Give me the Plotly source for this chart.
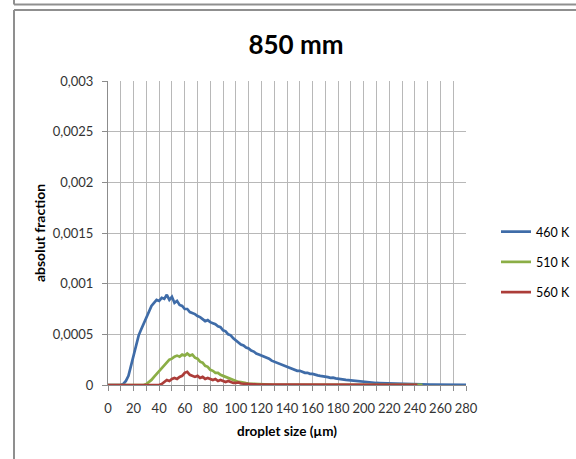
import plotly.graph_objects as go

# ---------------- data ----------------
series_names = ["460 K", "510 K", "560 K"]
series_colors = ["#3F6CA8", "#8BAE46", "#AC3D39"]

# droplet size grid step (µm)
step_um = 2

y_460 = [
    0, 0, 0, 0, 0, 0,
    0.00001, 0.00004, 0.00009, 0.00019, 0.00031, 0.00041, 0.00049, 0.00055, 0.00061, 0.00067,
    0.00073, 0.00078, 0.00081, 0.00084, 0.00083, 0.00086, 0.00085, 0.00089, 0.00084, 0.00087,
    0.00081, 0.00083, 0.00079, 0.00078, 0.00075, 0.00075, 0.00072, 0.00071, 0.00070, 0.00068,
    0.00067, 0.00065, 0.00063, 0.00064, 0.00062, 0.00061, 0.00060, 0.00058, 0.00057, 0.00054,
    0.00053, 0.00050, 0.00049, 0.00046, 0.00044, 0.00042, 0.00040, 0.00039, 0.00037, 0.00036,
    0.00034, 0.00033, 0.00031, 0.00030, 0.00029, 0.00028, 0.00027, 0.00026, 0.00024, 0.00023,
    0.00022, 0.00021, 0.00020, 0.00019, 0.00018, 0.00017, 0.00016, 0.00015, 0.00014, 0.00014,
    0.00013, 0.00012, 0.00012, 0.00011, 0.00011, 0.000100, 0.000095, 0.00009, 0.000088, 0.00008,
    0.000078, 0.00007, 0.000072, 0.000065, 0.00006, 0.000058, 0.000055, 0.00005, 0.000048, 0.000045,
    0.00004, 0.000038, 0.000035, 0.000032, 0.00003, 0.000028, 0.000026, 0.000024, 0.000022, 0.00002,
    0.000019, 0.000018, 0.000016, 0.000015, 0.000014, 0.000013, 0.000012, 0.000011, 0.00001, 0.000009,
    0.000008, 0.000008, 0.000007, 0.000006, 0.000006, 0.000005, 0.000005, 0.000004, 0.000004, 0.000004,
    0.000003, 0.000003, 0.000003, 0.000003, 0.000002, 0.000002, 0.000002, 0.000002, 0.000002, 0.000001,
    0.000001, 0.000001, 0.000001, 0.000001, 0.000001,
]

y_510 = [
    0, 0, 0, 0, 0, 0, 0, 0, 0, 0, 0, 0, 0, 0, 0,
    0.00001, 0.00003, 0.00005, 0.00008, 0.00011, 0.00014, 0.00017, 0.00020, 0.00022, 0.00025,
    0.00026, 0.00028, 0.00029, 0.00028, 0.00030, 0.00029, 0.00031, 0.00029, 0.00030, 0.00027,
    0.00026, 0.00023, 0.00022, 0.00019, 0.00018, 0.00015, 0.00014, 0.00012, 0.00012, 0.00010,
    0.00009, 0.00008, 0.00007, 0.00006, 0.00005, 0.00004, 0.00003, 0.000028, 0.00002, 0.000018,
    0.000014, 0.000012, 0.00001, 0.000009, 0.000008, 0.000007, 0.000006, 0.000005, 0.000005, 0.000004,
    0.000004,
    0.000003, 0.000003, 0.000003, 0.000003, 0.000003, 0.000003, 0.000003, 0.000003, 0.000003, 0.000003,
    0.000003, 0.000003, 0.000003, 0.000003, 0.000003,
    0.000002, 0.000002, 0.000002, 0.000002, 0.000002, 0.000002, 0.000002, 0.000002, 0.000002, 0.000002,
    0.000002, 0.000002, 0.000002, 0.000002, 0.000002, 0.000002, 0.000002, 0.000002, 0.000002, 0.000002,
    0.000001, 0.000001, 0.000001, 0.000001, 0.000001, 0.000001, 0.000001, 0.000001, 0.000001, 0.000001,
    0.000001, 0.000001, 0.000001, 0.000001, 0.000001, 0.000001, 0.000001, 0.000001, 0.000001, 0.000001,
    0.000001, 0.000001, 0.000001,
]

y_560 = [
    0, 0, 0, 0, 0, 0, 0, 0, 0, 0, 0, 0, 0, 0, 0, 0, 0, 0, 0, 0, 0,
    0.00001, 0.00003, 0.00005, 0.00004, 0.00006, 0.00007, 0.00006, 0.00008, 0.00009, 0.00012,
    0.00013, 0.00010, 0.00009, 0.00008, 0.00009, 0.00007, 0.00008, 0.00006, 0.00007, 0.00006,
    0.00005, 0.00006, 0.00004, 0.00005, 0.00004, 0.00003, 0.00004, 0.00003, 0.00002, 0.00002,
    0.000025, 0.000015, 0.000012, 0.00001, 0.000012, 0.000008, 0.000007, 0.000006, 0.000005, 0.000005,
    0.000004, 0.000004, 0.000004, 0.000004, 0.000004, 0.000004, 0.000004, 0.000004, 0.000004, 0.000004,
    0.000003, 0.000003, 0.000003, 0.000003, 0.000003, 0.000003, 0.000003, 0.000003, 0.000003, 0.000003,
    0.000003, 0.000003, 0.000003, 0.000003, 0.000003,
    0.000002, 0.000002, 0.000002, 0.000002, 0.000002, 0.000002, 0.000002, 0.000002, 0.000002, 0.000002,
    0.000002, 0.000002, 0.000002, 0.000002, 0.000002,
    0.000001, 0.000001, 0.000001, 0.000001, 0.000001, 0.000001, 0.000001, 0.000001, 0.000001, 0.000001,
    0.000001, 0.000001, 0.000001, 0.000001, 0.000001, 0.000001, 0.000001, 0.000001, 0.000001, 0.000001,
    0.000001,
]

x_tick_vals = [0, 10, 20, 30, 40, 50, 60, 70, 80, 90, 100, 110, 120, 130, 140,
               150, 160, 170, 180, 190, 200, 210, 220, 230, 240, 250, 260, 270, 280]
x_tick_text = ["0", "", "20", "", "40", "", "60", "", "80", "", "100", "", "120", "", "140",
               "", "160", "", "180", "", "200", "", "220", "", "240", "", "260", "", "280"]
y_tick_vals = [0, 0.0005, 0.001, 0.0015, 0.002, 0.0025, 0.003]
y_tick_text = ["0", "0,0005", "0,001", "0,0015", "0,002", "0,0025", "0,003"]

title_text = "850 mm"
x_title = "droplet size (µm)"
y_title = "absolut fraction"

# ---------------- figure ----------------
W, H = 576, 459
L, R, T, B = 108, 110, 81, 74
FONT = "Lato, 'Open Sans', sans-serif"

fig = go.Figure()
for name, color, ys in zip(series_names, series_colors, [y_460, y_510, y_560]):
    xs = [i * step_um for i in range(len(ys))]
    fig.add_trace(go.Scatter(
        x=xs, y=ys, mode="lines", name=name, legendgroup=name,
        line=dict(color=color, width=2.7),
    ))

grid_c = "#B8B8B8"
fig.update_xaxes(
    range=[0, 280], tickvals=x_tick_vals, ticktext=x_tick_text, ticks="outside", ticklen=5,
    tickcolor="#8C8C8C", showgrid=True, gridcolor=grid_c, gridwidth=1,
    showline=True, linecolor="#8C8C8C", linewidth=1, zeroline=False,
    tickfont=dict(family=FONT, size=13, color="#333333"),
    ticklabelstandoff=6,
    title=dict(text="<b>" + x_title + "</b>", font=dict(family=FONT, size=13.5, color="#000000"),
               standoff=11),
)
fig.update_yaxes(
    range=[0, 0.003], tickvals=y_tick_vals, ticktext=y_tick_text, ticks="outside",
    ticklen=5, tickcolor="#8C8C8C", showgrid=True, gridcolor=grid_c, gridwidth=1,
    showline=True, linecolor="#8C8C8C", linewidth=1, zeroline=False,
    tickfont=dict(family=FONT, size=13, color="#333333"),
    ticklabelstandoff=6,
    title=dict(text="<b>" + y_title + "</b>", font=dict(family=FONT, size=14, color="#000000"),
               standoff=3),
)

# frame lines (pixel -> paper)
pw, ph = W - L - R, H - T - B
def px(xp):
    return (xp - L) / pw
def py(yp):
    return (H - B - yp) / ph

frame_c = "#8F8F8F"
shapes = [
    dict(type="line", xref="paper", yref="paper", x0=px(14), x1=px(W + 5), y0=py(10), y1=py(10),
         line=dict(color=frame_c, width=2)),
    dict(type="line", xref="paper", yref="paper", x0=px(14), x1=px(14), y0=py(10), y1=py(H + 5),
         line=dict(color=frame_c, width=2)),
    dict(type="line", xref="paper", yref="paper", x0=px(14), x1=px(W + 5), y0=py(4.5), y1=py(4.5),
         line=dict(color=frame_c, width=2)),
    dict(type="line", xref="paper", yref="paper", x0=px(14), x1=px(14), y0=py(-5), y1=py(4.5),
         line=dict(color=frame_c, width=2)),
]

fig.update_layout(
    width=W, height=H,
    margin=dict(l=L, r=R, t=T, b=B, autoexpand=False),
    paper_bgcolor="white", plot_bgcolor="white",
    title=dict(text="<b>" + title_text + "</b>", x=296 / W, xanchor="center",
               y=1 - 45 / H, yanchor="middle", font=dict(family=FONT, size=26, color="#000000")),
    legend=dict(x=px(496), xanchor="left", y=py(217), yanchor="top",
                font=dict(family=FONT, size=12.5, color="#000000"),
                tracegroupgap=11, bgcolor="rgba(0,0,0,0)", itemwidth=30),
    shapes=shapes,
    showlegend=True,
)

fig.write_html("out.html")
